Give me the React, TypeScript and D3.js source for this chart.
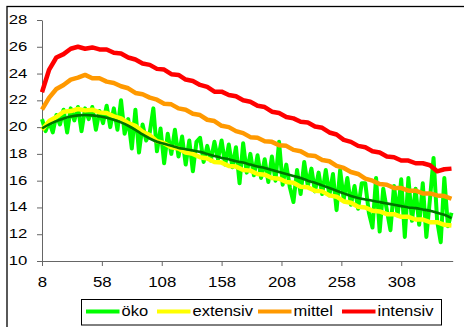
import { useEffect, useRef } from "react";
import * as d3 from "d3";

// categories (days)
const days = d3.range(8, 351, 6);
const okoDays = d3.range(8, 351, 3);
const xTicks = [8, 58, 108, 158, 208, 258, 308];
const yTicks = [10, 12, 14, 16, 18, 20, 22, 24, 26, 28];

const oko = [
  20.6, 19.7, 20.4, 19.6, 20.9, 20.2, 21.3, 19.6, 21.4, 20.5,
  21.5, 19.7, 21.4, 20.6, 21.5, 19.8, 21.2, 20.3, 21.6, 20.0,
  21.4, 19.8, 22.0, 19.5, 20.6, 18.4, 21.3, 18.1, 20.2, 19.0,
  19.6, 21.4, 18.2, 19.9, 17.3, 19.5, 18.0, 19.8, 17.8, 19.3,
  17.2, 19.0, 16.7, 18.9, 19.2, 17.4, 18.6, 17.5, 18.9, 17.6,
  19.0, 17.2, 18.7, 17.0, 18.5, 15.8, 18.8, 16.6, 18.0, 16.4,
  17.9, 16.2, 17.6, 15.9, 17.8, 16.0, 18.9, 15.7, 17.2, 15.5,
  14.4, 16.8, 15.0, 17.4, 15.6, 16.9, 15.2, 16.6, 15.0, 16.8,
  14.9, 16.5, 13.8, 16.8, 14.6, 16.2, 14.2, 15.6, 13.9, 15.8,
  15.8, 13.6, 12.5, 16.2, 12.2, 15.4, 13.8, 12.3, 15.6, 13.4,
  16.1, 11.8, 16.2, 13.0, 15.4, 12.7, 15.8, 11.8, 14.6, 17.7,
  13.0, 11.4, 16.2, 12.6, 13.6,
];

const extensiv = [
  19.8, 20.45, 20.75, 21.15, 21.2, 21.35, 21.25, 21.3, 21.1, 21.05,
  20.8, 20.65, 20.3, 20.1, 19.65, 19.4, 18.95, 18.8, 18.5, 18.4,
  18.1, 18.0, 17.75, 17.65, 17.4, 17.35, 17.1, 17.05, 16.8, 16.75,
  16.5, 16.45, 16.2, 16.15, 15.9, 15.85, 15.55, 15.5, 15.25, 15.2,
  14.9, 14.8, 14.45, 14.35, 14.05, 14.0, 13.75, 13.7, 13.5, 13.5,
  13.3, 13.3, 13.1, 13.1, 12.9, 12.9, 12.7, 12.65,
];

const mittel = [
  21.3, 22.2, 22.85, 23.15, 23.55, 23.7, 23.9, 23.65, 23.65, 23.4,
  23.3, 23.05, 22.9, 22.55, 22.45, 22.2, 22.05, 21.75, 21.7, 21.4,
  21.3, 21.0, 20.9, 20.55, 20.45, 20.1, 20.0, 19.7, 19.55, 19.25,
  19.2, 18.95, 18.9, 18.65, 18.6, 18.3, 18.2, 17.9, 17.85, 17.55,
  17.45, 17.1, 16.95, 16.65, 16.5, 16.15, 16.0, 15.75, 15.7, 15.45,
  15.45, 15.25, 15.25, 15.05, 15.05, 14.9, 14.85, 14.65,
];

const intensiv = [
  22.6, 24.3, 25.2, 25.45, 25.85, 26.0, 25.85, 25.95, 25.8, 25.8,
  25.55, 25.5, 25.2, 25.05, 24.75, 24.65, 24.35, 24.3, 23.95, 23.9,
  23.55, 23.45, 23.15, 23.0, 22.65, 22.65, 22.4, 22.3, 22.0, 21.9,
  21.6, 21.5, 21.15, 21.05, 20.75, 20.65, 20.4, 20.35, 20.05, 19.95,
  19.6, 19.45, 19.05, 18.9, 18.6, 18.5, 18.2, 18.1, 17.8, 17.75,
  17.5, 17.5, 17.3, 17.3, 17.15, 16.7, 16.85, 16.9,
];

// trend line over öko
const okoTrend = [
  19.9, 20.2, 20.45, 20.65, 20.8, 20.88, 20.9, 20.88, 20.8, 20.7,
  20.55, 20.35, 20.1, 19.8, 19.45, 19.15, 18.9, 18.75, 18.6, 18.45,
  18.35, 18.25, 18.15, 18.0, 17.85, 17.7, 17.6, 17.45, 17.35, 17.2,
  17.05, 16.95, 16.8, 16.65, 16.5, 16.35, 16.2, 16.0, 15.85, 15.65,
  15.45, 15.25, 15.05, 14.85, 14.7, 14.6, 14.5, 14.4, 14.3, 14.2,
  14.1, 14.0, 13.95, 13.85, 13.75, 13.6, 13.45, 13.2,
];

const seriesNames = ["öko", "extensiv", "mittel", "intensiv"];
const seriesColors = ["#00ff00", "#ffff00", "#ff9900", "#ff0000"];

const width = 464;
const height = 327;
const margin = { left: 42, top: 20, right: 11.3, bottom: 66 };
const font = "'Liberation Sans', Arial, sans-serif";

export default function App() {
  const svgRef = useRef<SVGSVGElement>(null);

  useEffect(() => {
    const svg = d3.select(svgRef.current);
    svg.selectAll("*").remove();

    const x = d3
      .scaleLinear()
      .domain([8, 351])
      .range([margin.left, width - margin.right]);
    const y = d3
      .scaleLinear()
      .domain([10, 28])
      .range([height - margin.bottom, margin.top]);

    // outer frame
    svg
      .append("rect")
      .attr("x", 7)
      .attr("y", 6.5)
      .attr("width", 500)
      .attr("height", 400)
      .attr("fill", "white")
      .attr("stroke", "#000")
      .attr("stroke-width", 1.3);

    // axes
    const yAxis = svg
      .append("g")
      .attr("transform", `translate(${margin.left},0)`)
      .call(d3.axisLeft(y).tickValues(yTicks).tickSize(5).tickSizeOuter(0));
    yAxis.select(".domain").attr("stroke", "#666");
    yAxis.selectAll("line").attr("stroke", "#666");
    yAxis
      .selectAll("text")
      .attr("x", -11.8)
      .attr("dy", "0.26em")
      .attr("transform", "scale(1.24,1)")
      .attr("fill", "#000")
      .style("font-family", font)
      .style("font-size", "13.5px");

    const xAxis = svg
      .append("g")
      .attr("transform", `translate(0,${height - margin.bottom})`)
      .call(d3.axisBottom(x).tickValues(xTicks).tickSize(5).tickSizeOuter(0).tickPadding(11));
    xAxis.select(".domain").attr("stroke", "#666");
    xAxis.selectAll("line").attr("stroke", "#666");
    xAxis
      .selectAll("text")
      .attr("transform", "scale(1.2,1)")
      .attr("fill", "#000")
      .style("font-family", font)
      .style("font-size", "14px");

    const line = d3
      .line<number>()
      .x((_, i) => x(days[i]))
      .y((d) => y(d));
    const okoLine = d3
      .line<number>()
      .x((_, i) => x(okoDays[i]))
      .y((d) => y(d));

    const plot = svg.append("g").attr("fill", "none").attr("stroke-linejoin", "round");

    plot
      .append("path")
      .datum(oko)
      .attr("stroke", seriesColors[0])
      .attr("stroke-width", 4)
      .attr("d", okoLine);

    [extensiv, mittel, intensiv].forEach((s, k) => {
      plot
        .append("path")
        .datum(s)
        .attr("stroke", seriesColors[k + 1])
        .attr("stroke-width", 4.5)
        .attr("d", line);
    });

    plot
      .append("path")
      .datum(okoTrend)
      .attr("stroke", "#007400")
      .attr("stroke-width", 2.6)
      .attr("d", line.curve(d3.curveMonotoneX));

    // legend
    const legend = svg.append("g");
    legend
      .append("rect")
      .attr("x", 81.5)
      .attr("y", 299.5)
      .attr("width", 360)
      .attr("height", 25.5)
      .attr("fill", "white")
      .attr("stroke", "#000")
      .attr("stroke-width", 1);

    const itemX = [86, 157, 258, 342];
    seriesNames.forEach((name, k) => {
      legend
        .append("line")
        .attr("x1", itemX[k])
        .attr("x2", itemX[k] + 33.5)
        .attr("y1", 311.5)
        .attr("y2", 311.5)
        .attr("stroke", seriesColors[k])
        .attr("stroke-width", 4);
      const tx = itemX[k] + 35.5;
      legend
        .append("text")
        .attr("x", tx)
        .attr("y", 316)
        .attr("transform", `translate(${tx},0) scale(1.18,1) translate(${-tx},0)`)
        .style("font-family", font)
        .style("font-size", "14px")
        .text(name);
    });
  }, []);

  return (
    <svg
      ref={svgRef}
      width={width}
      height={height}
      style={{ position: "absolute", left: 0, top: 0, background: "white" }}
    ></svg>
  );
}
